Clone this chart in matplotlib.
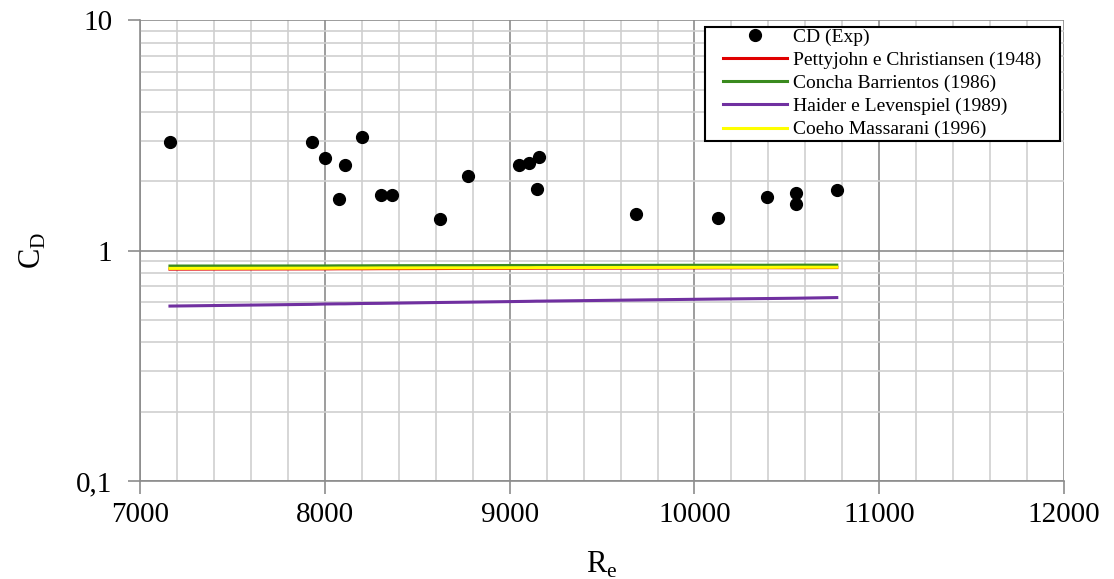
import numpy as np
import matplotlib
matplotlib.use("Agg")
import matplotlib.pyplot as plt
from matplotlib.patches import Rectangle
from matplotlib.ticker import FixedLocator, LogLocator, MultipleLocator, NullFormatter

plt.rcParams['font.family'] = ['Liberation Serif', 'DejaVu Serif']

# experimental drag coefficient vs Reynolds
re_exp = [7162, 7929, 8001, 8079, 8108, 8203, 8306, 8364, 8623, 8773,
          9049, 9107, 9147, 9161, 9684, 10129, 10393, 10550, 10550, 10770]
cd_exp = [2.98, 2.98, 2.52, 1.68, 2.35, 3.11, 1.75, 1.75, 1.37, 2.12,
          2.35, 2.40, 1.86, 2.56, 1.45, 1.39, 1.72, 1.79, 1.60, 1.84]

# correlations evaluated at the same Re values
re_mod = [7162, 7929, 8001, 8079, 8108, 8203, 8306, 8364, 8623, 8773,
          9049, 9107, 9147, 9161, 9684, 10129, 10393, 10550, 10770]
cd_pettyjohn = [0.832, 0.834, 0.834, 0.835, 0.835, 0.835, 0.836, 0.836, 0.837, 0.838,
                0.839, 0.839, 0.840, 0.840, 0.841, 0.843, 0.844, 0.844, 0.845]
cd_concha = [0.858, 0.859, 0.859, 0.860, 0.860, 0.860, 0.861, 0.861, 0.862, 0.862,
             0.863, 0.863, 0.863, 0.863, 0.864, 0.865, 0.865, 0.866, 0.866]
cd_haider = [0.575, 0.585, 0.587, 0.588, 0.588, 0.590, 0.591, 0.592, 0.596, 0.598,
             0.602, 0.603, 0.604, 0.604, 0.611, 0.617, 0.620, 0.622, 0.626]
cd_coelho = [0.838, 0.840, 0.840, 0.841, 0.841, 0.841, 0.842, 0.842, 0.843, 0.843,
             0.844, 0.844, 0.845, 0.845, 0.846, 0.847, 0.847, 0.848, 0.848]

labels = ["CD (Exp)", "Pettyjohn e Christiansen (1948)", "Concha Barrientos (1986)",
          "Haider e Levenspiel (1989)", "Coeho Massarani (1996)"]

fig = plt.figure(figsize=(11.14, 5.79), dpi=100)
ax = fig.add_axes([0.1257, 0.1693, 0.8295, 0.7953])

ax.plot(re_mod, cd_pettyjohn, color='#e00000', lw=2.2, label=labels[1], zorder=3)
ax.plot(re_mod, cd_concha, color='#3a8a1e', lw=2.2, label=labels[2], zorder=3)
ax.plot(re_mod, cd_haider, color='#7030a0', lw=2.2, label=labels[3], zorder=3)
ax.plot(re_mod, cd_coelho, color='#ffff00', lw=2.2, label=labels[4], zorder=3)
ax.plot(re_exp, cd_exp, 'o', color='black', ms=8.5, ls='none', label=labels[0], zorder=4)

ax.set_yscale('log')
ax.set_xlim(7000, 12000)
ax.set_ylim(0.1, 10)

ax.xaxis.set_major_locator(MultipleLocator(1000))
ax.xaxis.set_minor_locator(MultipleLocator(200))
ax.yaxis.set_major_locator(FixedLocator([0.1, 1, 10]))
ax.set_yticklabels(["0,1", "1", "10"])
ax.yaxis.set_minor_locator(LogLocator(base=10, subs=np.arange(2, 10)))
ax.yaxis.set_minor_formatter(NullFormatter())

ax.grid(which='major', color='#8c8c8c', lw=1.2)
ax.grid(which='minor', color='#cfcfcf', lw=1.2)
ax.set_axisbelow(True)

for s in ['top', 'right']:
    ax.spines[s].set_visible(False)
for s in ['left', 'bottom']:
    ax.spines[s].set_color('#8c8c8c')
    ax.spines[s].set_linewidth(1.2)

ax.tick_params(which='major', length=9, width=1.2, color='#8c8c8c', labelsize=21, pad=6)
ax.tick_params(axis='y', pad=11)
ax.tick_params(which='minor', length=0)

ax.set_xlabel(r"R$_\mathregular{e}$", fontsize=22, labelpad=16)
ax.set_ylabel(r"C$_\mathregular{D}$", fontsize=22, labelpad=20)

# legend box (white, black border) drawn separately to get Excel-like padding
box = Rectangle((0.6115, 0.738), 0.3842, 0.248, transform=ax.transAxes,
                facecolor='white', edgecolor='black', lw=1.5, zorder=5, clip_on=False)
ax.add_patch(box)

h, l = ax.get_legend_handles_labels()
order = [4, 0, 1, 2, 3]
leg = ax.legend([h[i] for i in order], [l[i] for i in order],
                loc='upper left', bbox_to_anchor=(0.631, 0.983), fontsize=14,
                frameon=False, handlelength=3.3, handletextpad=0.3,
                labelspacing=0.28, borderpad=0, borderaxespad=0)
leg.set_zorder(6)

fig.savefig("out.png", dpi=100)
